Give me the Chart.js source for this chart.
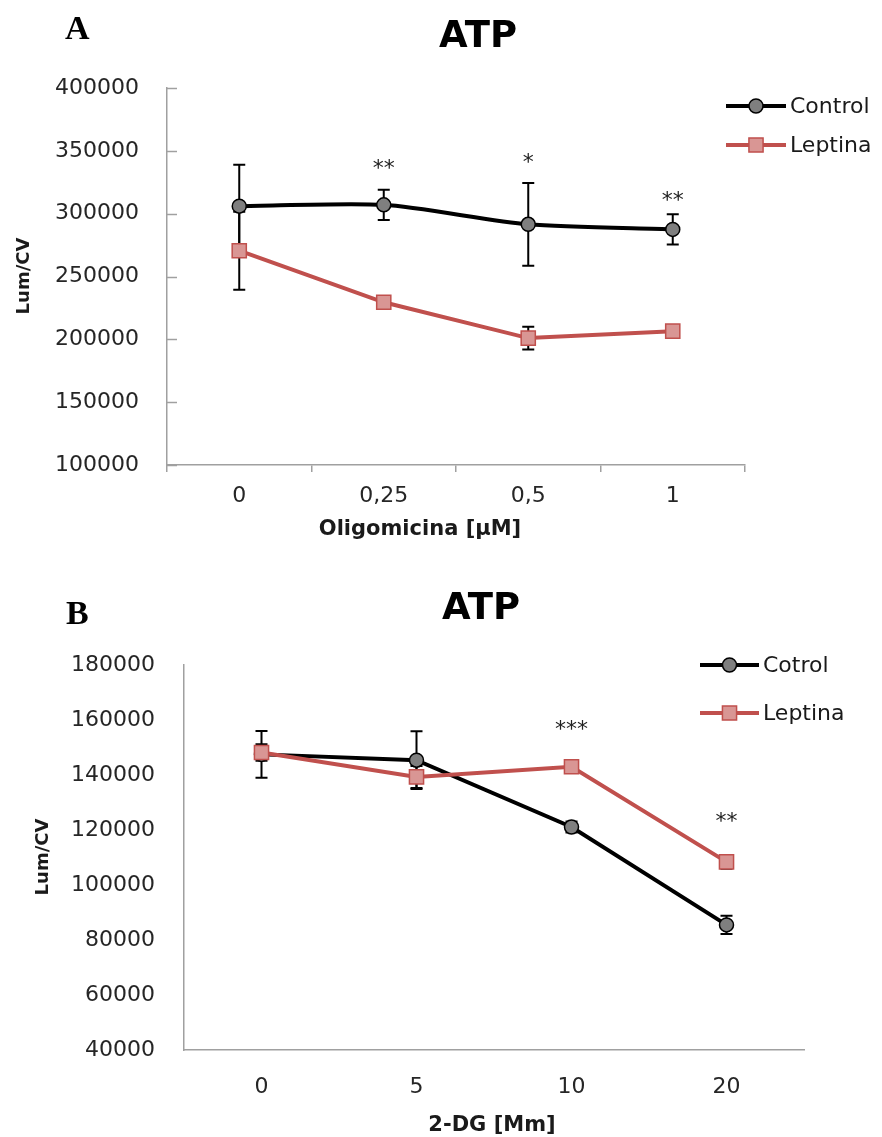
<!DOCTYPE html>
<html><head><meta charset="utf-8">
<script src="https://cdn.jsdelivr.net/npm/chart.js@4/dist/chart.umd.min.js"></script>
<style>
body{margin:0;background:#fff;width:882px;height:1137px;overflow:hidden;position:relative;font-family:'DejaVu Sans',sans-serif;}
.abs{position:absolute;white-space:nowrap;line-height:1;}
.letter{font-family:'Liberation Serif',serif;font-weight:bold;font-size:34px;color:#000;}
.title{font-weight:bold;font-size:37px;color:#000;text-align:center;width:200px;}
.axt{font-weight:bold;font-size:21px;color:#1a1a1a;text-align:center;width:300px;}
.yt{font-weight:bold;font-size:18px;color:#1a1a1a;text-align:center;width:120px;height:24px;line-height:24px;transform:rotate(-90deg);transform-origin:center;}
</style></head>
<body>
<div class="abs" style="left:0;top:0;width:882px;height:560px;"><canvas id="cA" width="882" height="560"></canvas></div>
<div class="abs" style="left:0;top:560px;width:882px;height:577px;"><canvas id="cB" width="882" height="577"></canvas></div>

<div class="abs letter" style="left:65px;top:11px;">A</div>
<div class="abs title" style="left:378px;top:16px;">ATP</div>
<div class="abs yt" style="left:-37px;top:264px;">Lum/CV</div>
<div class="abs axt" style="left:270px;top:518px;">Oligomicina [µM]</div>

<div class="abs letter" style="left:66px;top:596px;">B</div>
<div class="abs title" style="left:381px;top:588px;">ATP</div>
<div class="abs yt" style="left:-18px;top:845px;">Lum/CV</div>
<div class="abs axt" style="left:342px;top:1114px;">2-DG [Mm]</div>

<script>
// ---- Panel A data ----
const oligoLabels = ['0', '0,25', '0,5', '1'];
const oligoControl = [306000, 307000, 291500, 287500];
const oligoControlErr = [33000, 12000, 33000, 12000];
const oligoLeptina = [270500, 229500, 201000, 206500];
const oligoLeptinaErr = [31000, 5000, 9000, 3000];
const oligoStars = ['', '**', '*', '**'];
const oligoStarY = [null, 341000, 346000, 316000];
const oligoYTicks = [100000, 150000, 200000, 250000, 300000, 350000, 400000];

// ---- Panel B data ----
const dgLabels = ['0', '5', '10', '20'];
const dgControl = [147500, 145400, 121100, 85500];
const dgControlErr = [8500, 10500, 2000, 3300];
const dgLeptina = [148200, 139300, 143000, 108400];
const dgLeptinaErr = [3000, 4000, 1000, 2500];
const dgStars = ['', '', '***', '**'];
const dgStarY = [null, null, 159000, 125500];
const dgYTicks = [40000, 60000, 80000, 100000, 120000, 140000, 160000, 180000];

const AXIS = '#a0a0a0';
const TICKFONT = {family: 'DejaVu Sans', size: 22};

const extras = {
  id: 'extras',
  beforeDatasetsDraw(chart, args, opts) {
    const ctx = chart.ctx, y = chart.scales.y;
    ctx.save();
    ctx.strokeStyle = '#000';
    ctx.lineWidth = 2;
    chart.data.datasets.forEach((ds, i) => {
      const meta = chart.getDatasetMeta(i);
      ds.errors.forEach((e, j) => {
        if (!e) return;
        const x = meta.data[j].x;
        const top = y.getPixelForValue(ds.data[j] + e);
        const bot = y.getPixelForValue(ds.data[j] - e);
        ctx.beginPath();
        ctx.moveTo(x, top); ctx.lineTo(x, bot);
        ctx.moveTo(x - 6, top); ctx.lineTo(x + 6, top);
        ctx.moveTo(x - 6, bot); ctx.lineTo(x + 6, bot);
        ctx.stroke();
      });
    });
    ctx.restore();
  },
  afterDraw(chart, args, opts) {
    const ctx = chart.ctx, xs = chart.scales.x, ys = chart.scales.y;
    ctx.save();
    if (opts.insideTicks) {
      ctx.strokeStyle = AXIS; ctx.lineWidth = 1.5;
      ys.ticks.forEach(t => {
        const p = Math.round(ys.getPixelForValue(t.value)) + 0.5;
        ctx.beginPath(); ctx.moveTo(chart.chartArea.left, p); ctx.lineTo(chart.chartArea.left + 10, p); ctx.stroke();
      });
    }
    ctx.fillStyle = '#222';
    ctx.font = '22px "DejaVu Sans"';
    ctx.textAlign = 'center';
    ctx.textBaseline = 'alphabetic';
    opts.stars.forEach((s, j) => {
      if (!s) return;
      ctx.fillText(s, xs.getPixelForValue(j), ys.getPixelForValue(opts.starY[j]) + 13);
    });
    const L = opts.legend;
    chart.data.datasets.forEach((ds, i) => {
      const ly = L.y[i];
      ctx.strokeStyle = ds.borderColor; ctx.lineWidth = ds.borderWidth;
      ctx.beginPath(); ctx.moveTo(L.x0, ly); ctx.lineTo(L.x1, ly); ctx.stroke();
      ctx.fillStyle = ds.pointBackgroundColor; ctx.strokeStyle = ds.pointBorderColor; ctx.lineWidth = ds.pointBorderWidth;
      Chart.helpers.drawPoint(ctx, {pointStyle: ds.pointStyle, radius: ds.pointRadius, borderWidth: ds.pointBorderWidth, rotation: 0}, (L.x0 + L.x1) / 2, ly);
      ctx.fillStyle = '#1a1a1a';
      ctx.font = L.font;
      ctx.textAlign = 'left'; ctx.textBaseline = 'middle';
      ctx.fillText(ds.label, L.x1 + 4, ly + 1);
    });
    ctx.restore();
  }
};

function ctrlDs(label, data, errs, tension) {
  return {label, data, errors: errs, borderColor: '#000', borderWidth: 4, tension,
    pointStyle: 'circle', pointRadius: 7, pointHoverRadius: 7,
    pointBackgroundColor: '#7f7f7f', pointBorderColor: '#000', pointBorderWidth: 1.5, order: 2};
}
function leptDs(label, data, errs) {
  return {label, data, errors: errs, borderColor: '#c0504d', borderWidth: 4, tension: 0,
    pointStyle: 'rect', pointRadius: 10, pointHoverRadius: 10,
    pointBackgroundColor: '#d99694', pointBorderColor: '#c0504d', pointBorderWidth: 1.5, order: 1};
}

function makeChart(id, cfg) {
  return new Chart(document.getElementById(id), {
    type: 'line',
    data: {labels: cfg.labels, datasets: cfg.datasets},
    options: {
      responsive: false, animation: false,
      layout: {padding: cfg.padding},
      plugins: {legend: {display: false}, tooltip: {enabled: false}, title: {display: false},
        extras: {stars: cfg.stars, starY: cfg.starY, legend: cfg.legend, insideTicks: cfg.insideTicks}},
      scales: {
        x: {
          type: 'category', offset: true,
          afterFit: s => { s.height = cfg.xHeight; },
          grid: cfg.xGrid,
          border: {display: true, color: AXIS, width: 1.5},
          ticks: {font: TICKFONT, color: '#262626', padding: cfg.xPad, maxRotation: 0}
        },
        y: {
          min: cfg.yTicks[0], max: cfg.yTicks[cfg.yTicks.length - 1],
          afterBuildTicks: s => { s.ticks = cfg.yTicks.map(v => ({value: v})); },
          afterFit: s => { s.width = cfg.yWidth; },
          grid: {display: false},
          border: {display: true, color: AXIS, width: 1.5},
          ticks: {font: TICKFONT, color: '#262626', padding: cfg.yPad, callback: v => String(v)}
        }
      }
    },
    plugins: [extras]
  });
}

makeChart('cA', {
  labels: oligoLabels,
  datasets: [ctrlDs('Control', oligoControl, oligoControlErr, 0.25), leptDs('Leptina', oligoLeptina, oligoLeptinaErr)],
  stars: oligoStars, starY: oligoStarY, yTicks: oligoYTicks,
  padding: {left: 0, right: 137, top: 88, bottom: 35},
  xHeight: 60, yWidth: 167, xPad: 11, yPad: 20, insideTicks: true,
  xGrid: {display: true, offset: true, drawOnChartArea: false, drawTicks: true, tickLength: 7, color: AXIS, lineWidth: 1.5},
  legend: {x0: 726, x1: 786, y: [106, 145], font: '22px "DejaVu Sans"'}
});

makeChart('cB', {
  labels: dgLabels,
  datasets: [ctrlDs('Cotrol', dgControl, dgControlErr, 0), leptDs('Leptina', dgLeptina, dgLeptinaErr)],
  stars: dgStars, starY: dgStarY, yTicks: dgYTicks,
  padding: {left: 0, right: 78, top: 105, bottom: 27},
  xHeight: 60, yWidth: 184, xPad: 16, yPad: 21, insideTicks: false,
  xGrid: {display: false},
  legend: {x0: 700, x1: 759, y: [105, 153], font: '22px "DejaVu Sans"'}
});
</script>
</body></html>
